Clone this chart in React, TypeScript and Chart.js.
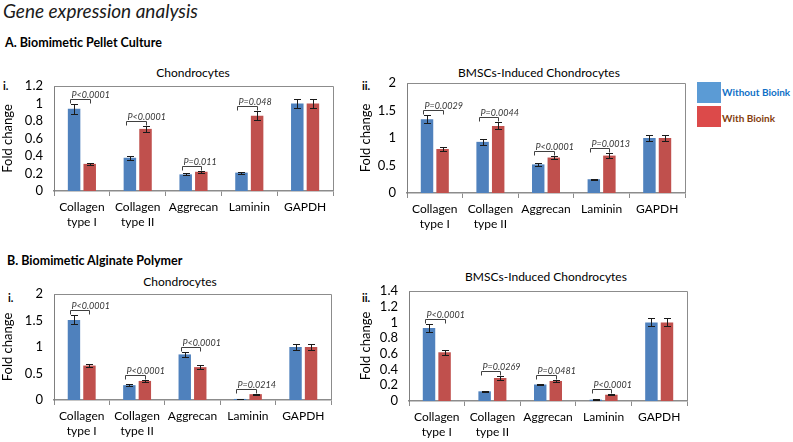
import React, { useEffect, useRef } from "react";
import { Chart, registerables } from "chart.js";
Chart.register(...registerables);

// ---------- data ----------
const categories = [["Collagen", "type I"], ["Collagen", "type II"], ["Aggrecan"], ["Laminin"], ["GAPDH"]];
const seriesNames = ["Without Bioink", "With Bioink"];

// A-i Pellet culture, Chondrocytes
const pelletChondroWithout = [0.94, 0.38, 0.19, 0.21, 1.0];
const pelletChondroWithoutErr = [0.055, 0.02, 0.01, 0.01, 0.055];
const pelletChondroWith = [0.31, 0.71, 0.22, 0.86, 1.0];
const pelletChondroWithErr = [0.015, 0.035, 0.012, 0.05, 0.055];
const pelletChondroP = ["P<0.0001", "P<0.0001", "P=0.011", "P=0.048", ""];

// A-ii Pellet culture, BMSCs-induced chondrocytes
const pelletBmscWithout = [1.34, 0.93, 0.52, 0.25, 1.0];
const pelletBmscWithoutErr = [0.075, 0.05, 0.025, 0.01, 0.05];
const pelletBmscWith = [0.80, 1.22, 0.645, 0.68, 1.0];
const pelletBmscWithErr = [0.04, 0.065, 0.03, 0.04, 0.05];
const pelletBmscP = ["P=0.0029", "P=0.0044", "P<0.0001", "P=0.0013", ""];

// B-i Alginate polymer, Chondrocytes
const alginateChondroWithout = [1.51, 0.28, 0.86, 0.02, 1.0];
const alginateChondroWithoutErr = [0.085, 0.015, 0.05, 0.004, 0.05];
const alginateChondroWith = [0.65, 0.36, 0.62, 0.11, 1.0];
const alginateChondroWithErr = [0.03, 0.02, 0.035, 0.01, 0.05];
const alginateChondroP = ["P<0.0001", "P<0.0001", "P<0.0001", "P=0.0214", ""];

// B-ii Alginate polymer, BMSCs-induced chondrocytes
const alginateBmscWithout = [0.93, 0.123, 0.21, 0.017, 1.0];
const alginateBmscWithoutErr = [0.05, 0.008, 0.01, 0.004, 0.05];
const alginateBmscWith = [0.62, 0.293, 0.255, 0.08, 1.0];
const alginateBmscWithErr = [0.035, 0.02, 0.015, 0.006, 0.05];
const alginateBmscP = ["P<0.0001", "P=0.0269", "P=0.0481", "P<0.0001", ""];

// ---------- style ----------
const FONT = "Lato, 'DejaVu Sans', sans-serif";
const BLUE = "#4f81bd";
const RED = "#c0504d";
const FRAME = "#8c8c8c";

type PanelProps = {
  without: number[]; withoutErr: number[]; withB: number[]; withErr: number[]; pvals: string[];
  ymax: number; step: number;
  canvasLeft: number; canvasTop: number; canvasRight: number; canvasBottom: number;
  plotLeft: number; plotRight: number; plotTop: number; plotBottom: number; foldX: number;
};

const annotatePlugin = {
  id: "annotate",
  afterDatasetsDraw(chart: any) {
    const ctx = chart.ctx;
    const ca = chart.chartArea;
    const y = chart.scales.y;
    const cfg = chart.options.plugins.annotate;
    ctx.save();
    // frame
    ctx.strokeStyle = FRAME;
    ctx.lineWidth = 1;
    ctx.beginPath();
    ctx.moveTo(ca.left, ca.top + 0.5);
    ctx.lineTo(ca.right + 0.5, ca.top + 0.5);
    ctx.lineTo(ca.right + 0.5, ca.bottom);
    ctx.stroke();
    // error bars
    ctx.strokeStyle = "#1a1a1a";
    ctx.lineWidth = 1;
    const errs = [cfg.withoutErr, cfg.withErr];
    const vals = [cfg.without, cfg.withB];
    for (let d = 0; d < 2; d++) {
      const meta = chart.getDatasetMeta(d);
      meta.data.forEach((bar: any, i: number) => {
        const v = vals[d][i], e = errs[d][i];
        const x = Math.round(bar.x) + 0.5;
        const yt = Math.round(y.getPixelForValue(v + e)) + 0.5;
        const yb = Math.round(y.getPixelForValue(v - e)) + 0.5;
        ctx.beginPath();
        ctx.moveTo(x, yt); ctx.lineTo(x, yb);
        ctx.moveTo(x - 3.5, yt); ctx.lineTo(x + 3.5, yt);
        ctx.moveTo(x - 3.5, yb); ctx.lineTo(x + 3.5, yb);
        ctx.stroke();
      });
    }
    // brackets + p-values
    const m0 = chart.getDatasetMeta(0), m1 = chart.getDatasetMeta(1);
    ctx.strokeStyle = "#404040";
    ctx.fillStyle = "#333";
    ctx.font = `italic 9px ${FONT}`;
    ctx.textBaseline = "alphabetic";
    ctx.textAlign = "left";
    cfg.pvals.forEach((p: string, i: number) => {
      if (!p) return;
      const top = Math.min(
        y.getPixelForValue(cfg.without[i] + cfg.withoutErr[i]),
        y.getPixelForValue(cfg.withB[i] + cfg.withErr[i])
      );
      const by = Math.round(top - 5) + 0.5;
      const x0 = Math.round(m0.data[i].x - 4) + 0.5;
      const x1 = Math.round(m1.data[i].x) + 0.5;
      ctx.beginPath();
      ctx.moveTo(x0, by + 4); ctx.lineTo(x0, by); ctx.lineTo(x1, by); ctx.lineTo(x1, by + 4);
      ctx.stroke();
      ctx.fillText(p, x0 + 1, by - 2);
    });
    ctx.restore();
  },
};

function Panel(props: PanelProps) {
  const ref = useRef<HTMLCanvasElement | null>(null);
  const w = props.canvasRight - props.canvasLeft;
  const h = props.canvasBottom - props.canvasTop;
  useEffect(() => {
    if (!ref.current) return;
    const chart = new Chart(ref.current, {
      type: "bar",
      data: {
        labels: categories as any,
        datasets: [
          { label: seriesNames[0], data: props.without, backgroundColor: BLUE, borderWidth: 0, barPercentage: 0.8, categoryPercentage: 0.56 },
          { label: seriesNames[1], data: props.withB, backgroundColor: RED, borderWidth: 0, barPercentage: 0.8, categoryPercentage: 0.56 },
        ],
      },
      options: {
        animation: false,
        responsive: false,
        maintainAspectRatio: false,
        events: [],
        layout: { padding: { top: props.plotTop - props.canvasTop, right: props.canvasRight - props.plotRight, left: 0, bottom: 0 } },
        plugins: {
          legend: { display: false },
          tooltip: { enabled: false },
          title: { display: false },
          annotate: { without: props.without, withoutErr: props.withoutErr, withB: props.withB, withErr: props.withErr, pvals: props.pvals },
        } as any,
        scales: {
          x: {
            type: "category",
            offset: true,
            grid: { display: true, drawOnChartArea: false, drawTicks: true, tickLength: 5, color: FRAME, offset: true },
            border: { display: true, color: FRAME, width: 1.5 },
            ticks: { font: { family: FONT, size: 12, lineHeight: 1.25 }, color: "#000", padding: 4, maxRotation: 0, autoSkip: false },
            afterFit: (s: any) => { s.height = props.canvasBottom - props.plotBottom; },
          },
          y: {
            min: 0,
            max: props.ymax,
            ticks: {
              stepSize: props.step, autoSkip: false, font: { family: FONT, size: 13 }, color: "#000", padding: 11,
              callback: (v: any) => String(Math.round(Number(v) * 100) / 100),
            },
            grid: { display: false, drawTicks: false },
            border: { display: true, color: "#7f7f7f", width: 1 },
            title: { display: true, text: "Fold change", font: { family: FONT, size: 13 }, color: "#000", padding: { top: props.foldX - props.canvasLeft - 7.8, bottom: 0 } },
            afterFit: (s: any) => { s.width = props.plotLeft - props.canvasLeft; },
          },
        } as any,
      },
      plugins: [annotatePlugin],
    });
    return () => chart.destroy();
  }, []);
  return (
    <canvas
      ref={ref}
      width={w}
      height={h}
      style={{ position: "absolute", left: props.canvasLeft, top: props.canvasTop, width: w, height: h }}
    />
  );
}

function Txt(p: { x: number; cy: number; text: string; size: number; bold?: boolean; italic?: boolean; color?: string; center?: boolean }) {
  return (
    <div
      style={{
        position: "absolute",
        left: p.x,
        top: p.cy - 10,
        height: 20,
        lineHeight: "20px",
        fontFamily: FONT,
        fontSize: p.size,
        fontWeight: p.bold ? 700 : 400,
        fontStyle: p.italic ? "italic" : "normal",
        color: p.color || "#000",
        whiteSpace: "nowrap",
        transform: p.center ? "translateX(-50%)" : undefined,
      }}
    >
      {p.text}
    </div>
  );
}

export default function App() {
  return (
    <div style={{ position: "fixed", left: 0, top: 0, width: 793, height: 442, background: "#fff", overflow: "hidden" }}>
      <Txt x={3} cy={11} text="Gene expression analysis" size={19} italic color="#1a1a1a" />
      <Txt x={5} cy={43} text="A. Biomimetic Pellet Culture" size={12.5} bold />
      <Txt x={7} cy={261} text="B. Biomimetic Alginate Polymer" size={12.5} bold />

      <Txt x={193} cy={73} text="Chondrocytes" size={12} center />
      <Txt x={539} cy={73} text="BMSCs-Induced Chondrocytes" size={12} center />
      <Txt x={180} cy={282} text="Chondrocytes" size={12} center />
      <Txt x={546} cy={277} text="BMSCs-Induced Chondrocytes" size={12} center />

      <Txt x={3} cy={86} text="i." size={11} bold />
      <Txt x={362} cy={86} text="ii." size={11} bold />
      <Txt x={8} cy={298} text="i." size={11} bold />
      <Txt x={362} cy={298} text="ii." size={11} bold />

      <Panel without={pelletChondroWithout} withoutErr={pelletChondroWithoutErr} withB={pelletChondroWith} withErr={pelletChondroWithErr} pvals={pelletChondroP}
        ymax={1.2} step={0.2} canvasLeft={0} canvasTop={60} canvasRight={338} canvasBottom={240}
        plotLeft={54} plotRight={333} plotTop={86} plotBottom={191} foldX={8} />
      <Panel without={pelletBmscWithout} withoutErr={pelletBmscWithoutErr} withB={pelletBmscWith} withErr={pelletBmscWithErr} pvals={pelletBmscP}
        ymax={2} step={0.5} canvasLeft={352} canvasTop={60} canvasRight={690} canvasBottom={240}
        plotLeft={407} plotRight={685} plotTop={83} plotBottom={193} foldX={366} />
      <Panel without={alginateChondroWithout} withoutErr={alginateChondroWithoutErr} withB={alginateChondroWith} withErr={alginateChondroWithErr} pvals={alginateChondroP}
        ymax={2} step={0.5} canvasLeft={0} canvasTop={270} canvasRight={336} canvasBottom={442}
        plotLeft={54} plotRight={331} plotTop={294} plotBottom={400} foldX={8} />
      <Panel without={alginateBmscWithout} withoutErr={alginateBmscWithoutErr} withB={alginateBmscWith} withErr={alginateBmscWithErr} pvals={alginateBmscP}
        ymax={1.4} step={0.2} canvasLeft={352} canvasTop={270} canvasRight={692} canvasBottom={442}
        plotLeft={409} plotRight={687} plotTop={291} plotBottom={401} foldX={366} />

      <div style={{ position: "absolute", left: 697, top: 82, width: 24, height: 21, background: "#5b9bd5" }} />
      <div style={{ position: "absolute", left: 697, top: 106, width: 24, height: 21, background: "#dc4a4a" }} />
      <Txt x={722} cy={92} text="Without Bioink" size={10} bold color="#0f6fc6" />
      <Txt x={722} cy={118} text="With Bioink" size={10} bold color="#843c0c" />
    </div>
  );
}
